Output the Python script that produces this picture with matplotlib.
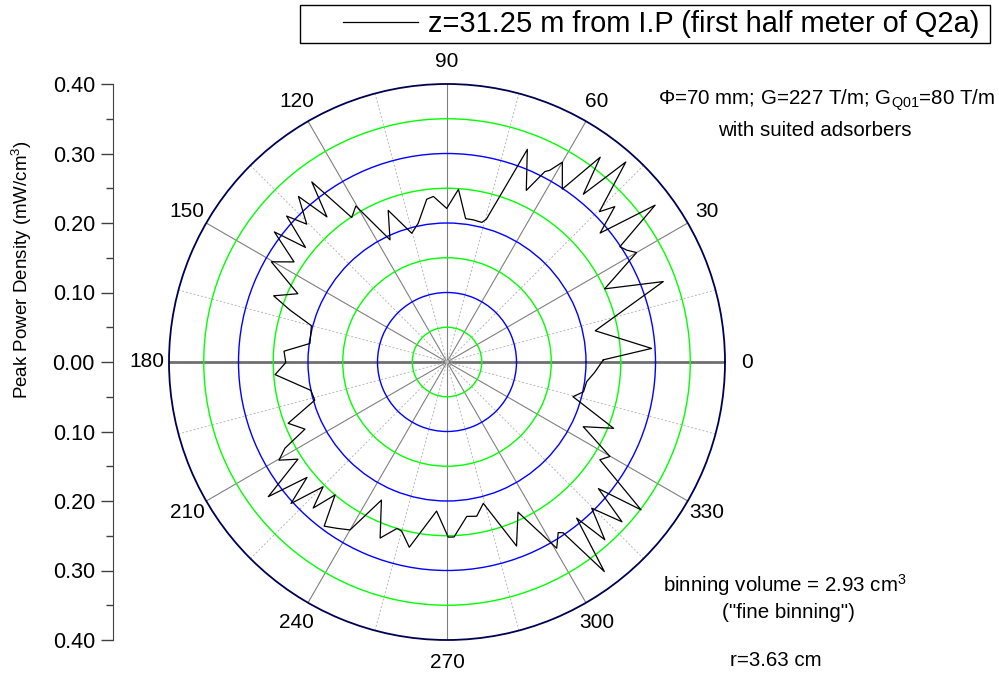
import numpy as np
import matplotlib
matplotlib.use("Agg")
import matplotlib.pyplot as plt
from matplotlib.patches import Rectangle
from matplotlib.ticker import FixedLocator, FuncFormatter

plt.rcParams['font.family'] = ['Liberation Sans', 'DejaVu Sans']
plt.rcParams['mathtext.default'] = 'regular'

# peak power density vs azimuth
theta_deg = [0.8, 3.8, 11.9, 20.4, 24.9, 30.0, 31.8, 33.7, 37.0, 40.1,
             42.8, 44.6, 48.2, 50.9, 53.2, 56.3, 60.0, 61.8, 62.8, 65.2,
             69.3, 74.6, 76.0, 79.5, 82.6, 86.2, 90.1, 94.7, 97.1, 101.7,
             105.3, 111.2, 115.0, 120.3, 123.4, 126.9, 129.6, 131.9, 135.5, 137.7,
             141.0, 143.0, 146.8, 150.3, 155.4, 159.1, 161.7, 165.0, 172.3, 176.2,
             180.2, 184.2, 191.8, 196.1, 201.1, 205.3, 208.0, 210.3, 213.1, 217.0,
             219.5, 222.2, 225.2, 227.5, 229.9, 233.2, 236.5, 240.0, 244.6, 249.2,
             253.3, 255.0, 258.5, 266.0, 270.4, 272.3, 277.3, 280.9, 284.4, 290.7,
             295.3, 300.5, 303.1, 304.2, 306.9, 309.7, 311.6, 314.7, 317.6, 320.1,
             322.7, 327.4, 329.9, 334.6, 338.3, 344.6, 347.7, 352.0, 356.0]
density = [0.225, 0.295, 0.218, 0.332, 0.250, 0.315, 0.305, 0.299, 0.375, 0.288,
           0.329, 0.308, 0.386, 0.311, 0.368, 0.299, 0.332, 0.313, 0.308, 0.272,
           0.327, 0.213, 0.207, 0.208, 0.208, 0.249, 0.221, 0.239, 0.236, 0.204,
           0.192, 0.234, 0.194, 0.260, 0.249, 0.324, 0.271, 0.320, 0.283, 0.312,
           0.262, 0.311, 0.263, 0.291, 0.236, 0.267, 0.238, 0.202, 0.199, 0.235,
           0.232, 0.248, 0.200, 0.198, 0.245, 0.226, 0.264, 0.280, 0.256, 0.322,
           0.261, 0.303, 0.253, 0.285, 0.250, 0.295, 0.287, 0.279, 0.220, 0.271,
           0.250, 0.252, 0.272, 0.215, 0.252, 0.252, 0.224, 0.226, 0.210, 0.283,
           0.239, 0.311, 0.293, 0.297, 0.377, 0.292, 0.342, 0.296, 0.341, 0.284,
           0.351, 0.261, 0.271, 0.217, 0.258, 0.188, 0.201, 0.203, 0.213]

rings = [0.05, 0.10, 0.15, 0.20, 0.25, 0.30, 0.35]
ring_colors = ['#00ff00', '#0000ff', '#00ff00', '#0000ff', '#00ff00', '#0000ff', '#00ff00']
major_angles = np.arange(0, 360, 30)
minor_angles = np.arange(15, 360, 30)
left_ticks = [-0.4, -0.3, -0.2, -0.1, 0.0, 0.1, 0.2, 0.3, 0.4]

fig = plt.figure(figsize=(9.99, 6.79), dpi=100)

ax = fig.add_axes([169/999, 39/679, 556/999, 556/679], projection='polar')
th = np.deg2rad(np.append(theta_deg, theta_deg[0]))
rr = np.append(density, density[0])
line, = ax.plot(th, rr, color='black', lw=0.9, zorder=5)
ax.set_rlim(0, 0.4)

ax.set_yticks(rings)
ax.set_yticklabels([])
ax.set_xticks(np.deg2rad(major_angles))
ax.set_xticklabels([str(a) for a in major_angles], fontsize=15)
ax.xaxis.set_minor_locator(FixedLocator(np.deg2rad(minor_angles)))
ax.grid(True, which='major', axis='y', linestyle='-', lw=1.0)
for gl, c in zip(ax.yaxis.get_gridlines(), ring_colors):
    gl.set_color(c)
ax.grid(True, which='major', axis='x', color='#808080', linestyle='-', lw=0.8)
ax.grid(True, which='minor', axis='x', color='#b8b8b8', linestyle=(0, (2, 2)), lw=0.7)
for i, gl in enumerate(ax.xaxis.get_gridlines()):
    if major_angles[i] % 180 == 0:
        gl.set_linewidth(2.0)
        gl.set_color('#707070')
ax.tick_params(axis='x', which='both', direction='in', length=7, width=1,
               color='black', pad=9)
ax.spines['polar'].set_color('#000050')
ax.spines['polar'].set_linewidth(1.3)

# straight radial scale at the left
ax2 = fig.add_axes([113/999, 39/679, 0.0005, 556/679])
ax2.set_ylim(-0.4, 0.4)
ax2.set_yticks(left_ticks)
ax2.yaxis.set_minor_locator(FixedLocator([-0.35, -0.25, -0.15, -0.05, 0.05, 0.15, 0.25, 0.35]))
ax2.yaxis.set_major_formatter(FuncFormatter(lambda v, p: '%.2f' % abs(v)))
ax2.set_xticks([])
for s in ['top', 'right', 'bottom']:
    ax2.spines[s].set_visible(False)
ax2.spines['left'].set_color('#404040')
ax2.tick_params(axis='y', which='major', length=9, width=1, labelsize=15.5, pad=4, color='#404040')
ax2.tick_params(axis='y', which='minor', length=5, width=1, color='#404040')
ax2.patch.set_visible(False)
fig.text(22/999, 1 - 270/679, 'Peak Power Density (mW/cm$^3$)', rotation=90,
         ha='center', va='center', fontsize=13.5)

# legend box
fig.patches.append(Rectangle((300/999, 1 - 43/679), 690/999, 38/679,
                             transform=fig.transFigure, fill=False,
                             ec='black', lw=1))
fig.legend([line], ['z=31.25 m from I.P (first half meter of Q2a)'],
           loc='center left', bbox_to_anchor=(343/999, 1 - 24/679),
           frameon=False, fontsize=20.9, borderpad=0, borderaxespad=0,
           handlelength=2.58, handletextpad=0.34)

fig.text(995/999, 1 - 100/679, '$\\Phi$=70 mm; G=227 T/m; G$_{Q01}$=80 T/m',
         ha='right', va='center', fontsize=14.8)
fig.text(815/999, 1 - 130/679, 'with suited adsorbers', ha='center', va='center', fontsize=14.8)
fig.text(785/999, 1 - 585/679, 'binning volume = 2.93 cm$^3$', ha='center', va='center', fontsize=14.8)
fig.text(788/999, 1 - 613/679, '("fine binning")', ha='center', va='center', fontsize=14.8)
fig.text(776/999, 1 - 660/679, 'r=3.63 cm', ha='center', va='center', fontsize=14.8)

fig.savefig('out.png', dpi=100)
